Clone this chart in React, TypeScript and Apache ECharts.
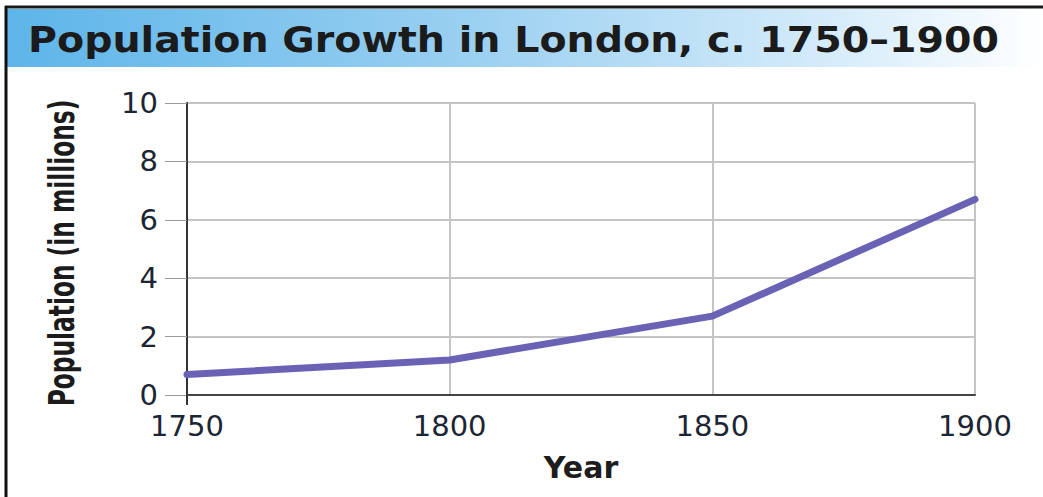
import React, { useEffect, useRef } from "react";
import * as echarts from "echarts";

const years = ["1750", "1800", "1850", "1900"];
const population = [0.7, 1.2, 2.7, 6.7];
const yTicks = { min: 0, max: 10, interval: 2 };
const titleText = "Population Growth in London, c. 1750\u20131900";
const yName = "Population (in millions)";
const xName = "Year";

export default function App() {
  const ref = useRef<HTMLDivElement>(null);
  useEffect(() => {
    if (!ref.current) return;
    const chart = echarts.init(ref.current, null, { renderer: "svg" });
    chart.setOption({
      animation: false,
      backgroundColor: "#ffffff",
      graphic: [
        {
          type: "rect",
          shape: { x: 7, y: 9, width: 1036, height: 58 },
          style: {
            fill: new echarts.graphic.LinearGradient(0, 0, 1, 0, [
              { offset: 0, color: "#5db5e9" },
              { offset: 0.45, color: "#9bd0f1" },
              { offset: 0.8, color: "#d6ecfa" },
              { offset: 1, color: "#ffffff" },
            ]),
          },
          z: 1,
        },
        {
          type: "line",
          shape: { x1: 5, y1: 7, x2: 1043, y2: 7 },
          style: { stroke: "#1a1a1a", lineWidth: 3 },
          z: 2,
        },
        {
          type: "line",
          shape: { x1: 6, y1: 6, x2: 6, y2: 497 },
          style: { stroke: "#111111", lineWidth: 3 },
          z: 2,
        },
        {
          type: "text",
          x: 28,
          y: 40,
          scaleX: 1.13,
          style: {
            text: titleText,
            fill: "#1b1b1b",
            font: "bold 35px 'DejaVu Sans', sans-serif",
            textVerticalAlign: "middle",
          },
          z: 3,
        },
        {
          type: "text",
          x: 61,
          y: 253,
          rotation: Math.PI / 2,
          scaleX: 0.72,
          style: {
            text: yName,
            fill: "#1b1b1b",
            font: "bold 36px 'DejaVu Sans Condensed', sans-serif",
            textAlign: "center",
            textVerticalAlign: "middle",
          },
          z: 3,
        },
      ],
      grid: { left: 187, right: 68, top: 103, bottom: 102, containLabel: false },
      xAxis: {
        type: "category",
        data: years,
        boundaryGap: false,
        name: xName,
        nameLocation: "middle",
        nameGap: 57,
        nameTextStyle: {
          fontFamily: "'DejaVu Sans', sans-serif",
          fontWeight: "bold",
          fontSize: 30,
          color: "#1d1d1d",
        },
        axisLine: { show: true, lineStyle: { color: "#444444", width: 2 } },
        axisTick: {
          show: true,
          interval: (i: number) => i === 0,
          length: 10,
          lineStyle: { color: "#333333", width: 2 },
        },
        axisLabel: {
          fontFamily: "'DejaVu Sans', sans-serif",
          fontSize: 29,
          color: "#1c2533",
          margin: 16,
        },
        splitLine: { show: true, lineStyle: { color: "#c4c4c4", width: 2 } },
      },
      yAxis: {
        type: "value",
        min: yTicks.min,
        max: yTicks.max,
        interval: yTicks.interval,
        axisLine: { show: true, lineStyle: { color: "#333333", width: 2 } },
        axisTick: { show: true, length: 22, lineStyle: { color: "#9a9a9a", width: 1 } },
        axisLabel: {
          fontFamily: "'DejaVu Sans', sans-serif",
          fontSize: 29,
          color: "#1c2533",
          margin: 29,
        },
        splitLine: { show: true, lineStyle: { color: "#c4c4c4", width: 2 } },
      },
      series: [
        {
          type: "line",
          data: population,
          symbol: "none",
          lineStyle: { color: "#6a62b4", width: 7, cap: "round", join: "round" },
          z: 5,
        },
      ],
    });
    return () => chart.dispose();
  }, []);
  return <div ref={ref} style={{ width: 1043, height: 497, position: "absolute", left: 0, top: 0 }} />;
}
